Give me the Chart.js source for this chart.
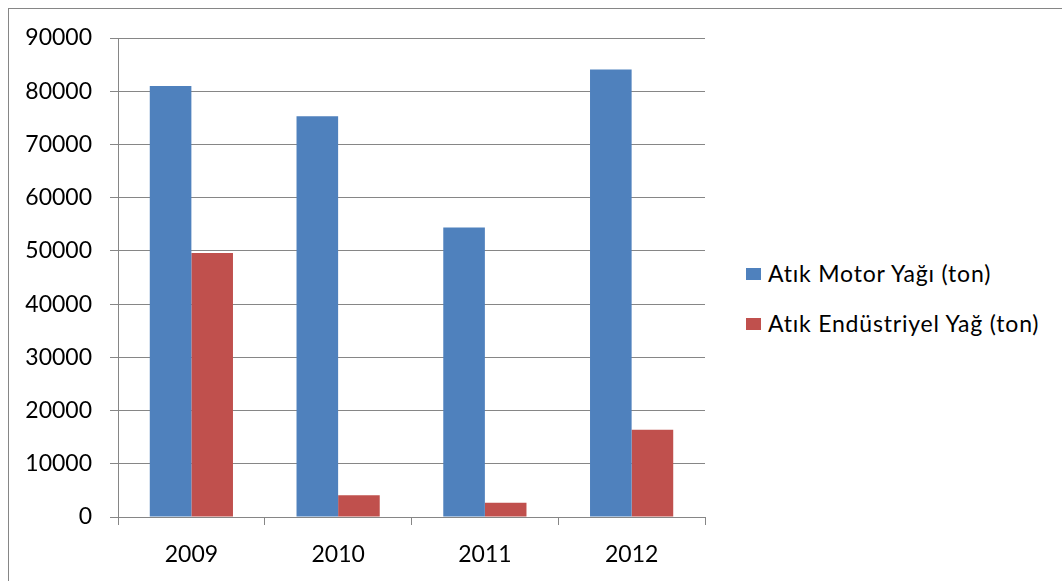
<!DOCTYPE html>
<html>
<head>
<meta charset="utf-8">
<script src="https://cdn.jsdelivr.net/npm/chart.js@4"></script>
<style>
  html, body { margin: 0; padding: 0; background: #fff; overflow: hidden; }
  #page { position: relative; width: 1062px; height: 581px; }
  /* thin frame round the whole chart; right and bottom edges run off the page */
  #frame { position: absolute; left: 8px; top: 8px; width: 1100px; height: 620px;
           border-left: 1px solid #868686; border-top: 1px solid #868686; }
  #plot { position: absolute; left: 0; top: 0; width: 712px; height: 581px; }
  #legend { position: absolute; left: 746px; top: 262px; font-family: Lato, sans-serif;
            font-size: 23px; line-height: 23px; letter-spacing: 0.8px; color: #000; }
  #legend .item { display: flex; align-items: center; height: 23px; margin-bottom: 27px; white-space: nowrap; }
  #legend .box { width: 15px; height: 12px; margin-right: 7px; flex: none; }
</style>
</head>
<body>
<div id="page">
  <div id="frame"></div>
  <div id="plot"><canvas id="chart"></canvas></div>
  <div id="legend"></div>
</div>
<script>
const years = ['2009', '2010', '2011', '2012'];
const motorOil = [81000, 75300, 54400, 84100];
const industrialOil = [49600, 4100, 2700, 16400];
const yTicks = [0, 10000, 20000, 30000, 40000, 50000, 60000, 70000, 80000, 90000];

const gridGrey = '#868686';
const font = { family: 'Lato', size: 23 };

const ctx = document.getElementById('chart');

const chart = new Chart(ctx, {
  type: 'bar',
  data: {
    labels: years,
    datasets: [
      { label: 'Atık Motor Yağı (ton)', data: motorOil, backgroundColor: '#4F81BD' },
      { label: 'Atık Endüstriyel Yağ (ton)', data: industrialOil, backgroundColor: '#C0504D' }
    ]
  },
  options: {
    responsive: true,
    maintainAspectRatio: false,
    animation: false,
    layout: { padding: { top: 38, right: 7, bottom: 0, left: 0 } },
    datasets: {
      bar: { categoryPercentage: 0.567, barPercentage: 1.0 }
    },
    scales: {
      x: {
        offset: true,
        grid: { drawOnChartArea: false, drawTicks: true, tickLength: 8, color: gridGrey, offset: true },
        border: { color: gridGrey, width: 1 },
        ticks: { color: '#000', font: font, padding: 16, maxRotation: 0 },
        afterFit(s) { s.height = 64; }
      },
      y: {
        min: 0,
        max: 90000,
        afterBuildTicks(s) { s.ticks = yTicks.map(v => ({ value: v })); },
        grid: { color: gridGrey, lineWidth: 1, tickLength: 8 },
        border: { color: gridGrey, width: 1 },
        ticks: { color: '#000', font: font, padding: 18, callback: v => String(v) },
        afterFit(s) { s.width = 118; }
      }
    },
    plugins: {
      legend: { display: false },
      tooltip: { enabled: false }
    }
  }
});

// legend sits to the right of the plot, built from the chart's own datasets
const legendEl = document.getElementById('legend');
chart.data.datasets.forEach(ds => {
  const row = document.createElement('div');
  row.className = 'item';
  const box = document.createElement('span');
  box.className = 'box';
  box.style.background = ds.backgroundColor;
  const txt = document.createElement('span');
  txt.textContent = ds.label;
  row.appendChild(box);
  row.appendChild(txt);
  legendEl.appendChild(row);
});
</script>
</body>
</html>
